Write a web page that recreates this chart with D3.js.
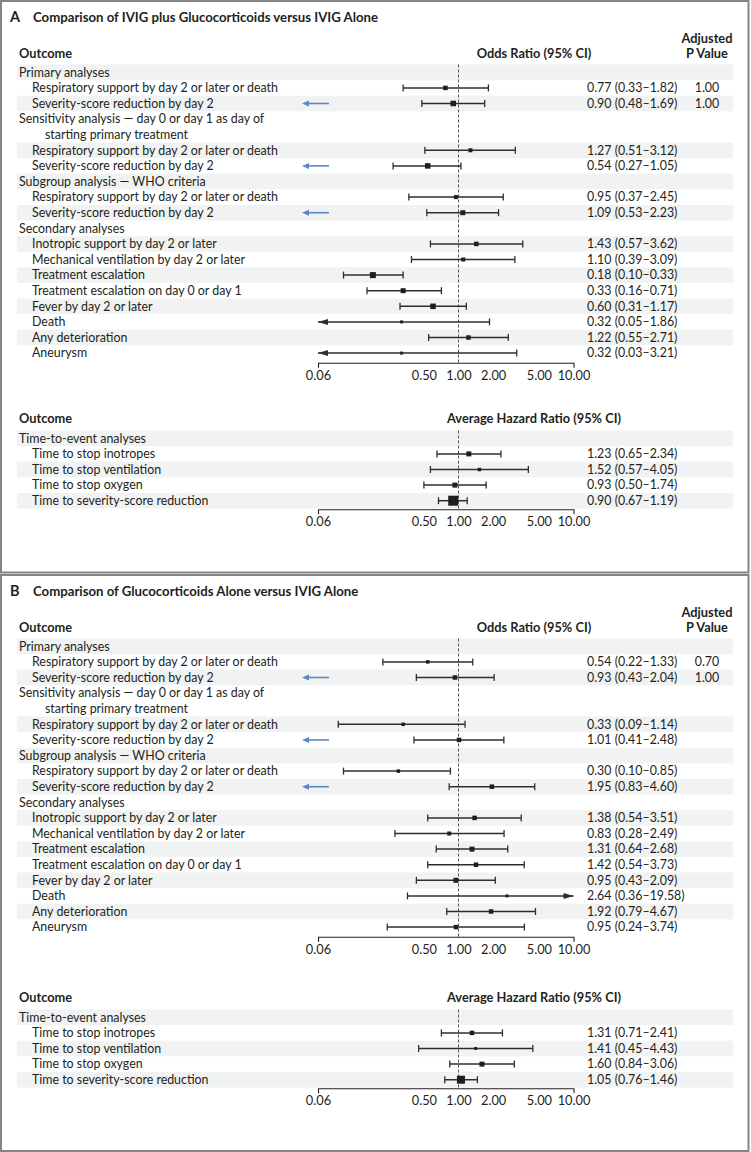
<!DOCTYPE html>
<html><head><meta charset="utf-8">
<script src="https://cdn.jsdelivr.net/npm/d3@7"></script>
<style>
body{margin:0;background:#fff}
svg{display:block}
text{font-family:Lato, "Open Sans", sans-serif; fill:#231f20}
</style>
</head><body>
<svg id="chart" width="751" height="1152"></svg>
<script>
// ---------- DATA ----------
const oddsOutcomes = [
  "Primary analyses",
  "Respiratory support by day 2 or later or death",
  "Severity-score reduction by day 2",
  "Sensitivity analysis \u2014 day 0 or day 1 as day of",
  "starting primary treatment",
  "Respiratory support by day 2 or later or death",
  "Severity-score reduction by day 2",
  "Subgroup analysis \u2014 WHO criteria",
  "Respiratory support by day 2 or later or death",
  "Severity-score reduction by day 2",
  "Secondary analyses",
  "Inotropic support by day 2 or later",
  "Mechanical ventilation by day 2 or later",
  "Treatment escalation",
  "Treatment escalation on day 0 or day 1",
  "Fever by day 2 or later",
  "Death",
  "Any deterioration",
  "Aneurysm"
];
const oddsIndent = [0,1,1,0,2,1,1,0,1,1,0,1,1,1,1,1,1,1,1];

const timeOutcomes = [
  "Time-to-event analyses",
  "Time to stop inotropes",
  "Time to stop ventilation",
  "Time to stop oxygen",
  "Time to severity-score reduction"
];
const timeIndent = [0,1,1,1,1];

// Panel A: IVIG plus glucocorticoids vs IVIG alone
const oddsEstA = [null,0.77,0.90,null,null,1.27,0.54,null,0.95,1.09,null,1.43,1.10,0.18,0.33,0.60,0.32,1.22,0.32];
const oddsLowA = [null,0.33,0.48,null,null,0.51,0.27,null,0.37,0.53,null,0.57,0.39,0.10,0.16,0.31,0.05,0.55,0.03];
const oddsHighA = [null,1.82,1.69,null,null,3.12,1.05,null,2.45,2.23,null,3.62,3.09,0.33,0.71,1.17,1.86,2.71,3.21];
const oddsWeightA = [0,4.5,5.5,0,0,4,5.5,0,4,5,0,4.5,4,6,5,5.5,3,4.5,3];
const pValueA = [null,"1.00","1.00",null,null,null,null,null,null,null,null,null,null,null,null,null,null,null,null];
const hazEstA = [null,1.23,1.52,0.93,0.90];
const hazLowA = [null,0.65,0.57,0.50,0.67];
const hazHighA = [null,2.34,4.05,1.74,1.19];
const hazWeightA = [0,5,3.5,5,10];

// Panel B: glucocorticoids alone vs IVIG alone
const oddsEstB = [null,0.54,0.93,null,null,0.33,1.01,null,0.30,1.95,null,1.38,0.83,1.31,1.42,0.95,2.64,1.92,0.95];
const oddsLowB = [null,0.22,0.43,null,null,0.09,0.41,null,0.10,0.83,null,0.54,0.28,0.64,0.54,0.43,0.36,0.79,0.24];
const oddsHighB = [null,1.33,2.04,null,null,1.14,2.48,null,0.85,4.60,null,3.51,2.49,2.68,3.73,2.09,19.58,4.67,3.74];
const oddsWeightB = [0,3.5,4.5,0,0,3.5,4.5,0,3.5,4.5,0,4.5,4,5,4.5,5,3,4.5,4.5];
const pValueB = [null,"0.70","1.00",null,null,null,null,null,null,null,null,null,null,null,null,null,null,null,null];
const hazEstB = [null,1.31,1.41,1.60,1.05];
const hazLowB = [null,0.71,0.45,0.84,0.76];
const hazHighB = [null,2.41,4.43,3.06,1.46];
const hazWeightB = [0,4.5,3,5,8];

const axisTicks = [0.06, 0.50, 1.00, 2.00, 5.00, 10.00];
const axisDomain = [0.06, 10];

const panelTitles = [
  {letter:"A", title:"Comparison of IVIG plus Glucocorticoids versus IVIG Alone"},
  {letter:"B", title:"Comparison of Glucocorticoids Alone versus IVIG Alone"}
];

// ---------- DRAW ----------
const svg = d3.select("#chart");
const x = d3.scaleLog().domain(axisDomain).range([318, 573.5]);
const f2 = d3.format(".2f");
const INK = "#231f20", LINE = "#2e2e2e", BAND = "#f1f2f2", BLUE = "#5b87c9";
const STEP = 15.6;
const FS = 12.4;

function drawSection(parent, o) {
  const g = parent.append("g");
  const n = o.labels.length;
  const y = d3.scalePoint().domain(d3.range(n)).range([o.y0, o.y0 + (n - 1) * STEP]);
  // shading groups (continuation lines share their group)
  let grp = -1;
  const shade = o.indent.map(d => { if (d !== 2) grp++; return grp % 2 === 0; });
  g.selectAll("rect.band").data(d3.range(n).filter(i => shade[i])).join("rect")
    .attr("class","band").attr("x",17).attr("width",716)
    .attr("y", i => y(i) - STEP/2).attr("height", STEP).attr("fill", BAND);

  // labels
  const indX = [19, 32, 45];
  g.selectAll("text.lab").data(d3.range(n)).join("text").attr("class","lab")
    .attr("x", i => indX[o.indent[i]]).attr("y", i => y(i) + 4.3)
    .attr("font-size", FS).text(i => o.labels[i]);

  // reference line at 1
  g.append("line").attr("x1", x(1)).attr("x2", x(1))
    .attr("y1", y(0) - STEP/2).attr("y2", o.axisY)
    .attr("stroke", "#555").attr("stroke-width", 1).attr("stroke-dasharray", "3,2");

  const rows = d3.range(n).filter(i => o.est[i] != null);
  const [dmin, dmax] = x.domain();
  rows.forEach(i => {
    const yy = y(i);
    const lo = Math.max(o.lo[i], dmin), hi = Math.min(o.hi[i], dmax);
    g.append("line").attr("x1", x(lo)).attr("x2", x(hi)).attr("y1", yy).attr("y2", yy)
      .attr("stroke", LINE).attr("stroke-width", 1.5);
    if (o.lo[i] >= dmin) {
      g.append("line").attr("x1", x(lo)).attr("x2", x(lo)).attr("y1", yy-3.5).attr("y2", yy+3.5)
        .attr("stroke", LINE).attr("stroke-width", 1.3);
    } else {
      const tx = x(lo);
      g.append("path").attr("d", `M${tx},${yy} L${tx+10},${yy-3} L${tx+10},${yy+3} Z`).attr("fill", LINE);
    }
    if (o.hi[i] <= dmax) {
      g.append("line").attr("x1", x(hi)).attr("x2", x(hi)).attr("y1", yy-3.5).attr("y2", yy+3.5)
        .attr("stroke", LINE).attr("stroke-width", 1.3);
    } else {
      const tx = x(hi);
      g.append("path").attr("d", `M${tx},${yy} L${tx-10},${yy-3} L${tx-10},${yy+3} Z`).attr("fill", LINE);
    }
    const s = o.w[i];
    g.append("rect").attr("x", x(o.est[i]) - s/2).attr("y", yy - s/2)
      .attr("width", s).attr("height", s).attr("fill", "#1e1e1e");
    g.append("text").attr("x", 587).attr("y", yy + 4.3).attr("font-size", FS)
      .text(`${f2(o.est[i])} (${f2(o.lo[i])}\u2013${f2(o.hi[i])})`);
    if (o.p && o.p[i] != null) {
      g.append("text").attr("x", 707).attr("y", yy + 4.3).attr("font-size", FS)
        .attr("text-anchor", "middle").text(o.p[i]);
    }
    if (o.arrows && o.labels[i] === "Severity-score reduction by day 2") {
      g.append("line").attr("x1", 329).attr("x2", 307).attr("y1", yy).attr("y2", yy)
        .attr("stroke", BLUE).attr("stroke-width", 1.6);
      g.append("path").attr("d", `M302,${yy} L309,${yy-3} L309,${yy+3} Z`).attr("fill", BLUE);
    }
  });

  // axis
  const ax = g.append("g").attr("transform", `translate(0,${o.axisY})`)
    .call(d3.axisBottom(x).tickValues(axisTicks).tickFormat(f2)
      .tickSizeInner(0).tickSizeOuter(5).tickPadding(8));
  ax.attr("font-family", null).attr("font-size", null);
  ax.select(".domain").attr("stroke", INK).attr("stroke-width", 1.1);
  ax.selectAll(".tick line").remove();
  ax.selectAll(".tick text").attr("font-size", 12.8).attr("fill", INK);
}

function drawPanel(k, top, hazShift, data) {
  const g = svg.append("g");
  const t = panelTitles[k];
  g.append("rect").attr("x", 1).attr("y", top + 1).attr("width", 747.5)
    .attr("height", k === 0 ? 571.5 : 576).attr("fill", "none")
    .attr("stroke", "#858585").attr("stroke-width", 2);
  g.append("text").attr("x", 10).attr("y", top + 21.5).attr("font-size", 14.5)
    .attr("font-weight", 700).text(t.letter);
  g.append("text").attr("x", 33).attr("y", top + 21.5).attr("font-size", 13.2)
    .attr("font-weight", 700).text(t.title);
  // headers
  g.append("text").attr("x", 19).attr("y", top + 57.5).attr("font-size", 12.8)
    .attr("font-weight", 700).text("Outcome");
  g.append("text").attr("x", 534).attr("y", top + 57.5).attr("font-size", 12.8)
    .attr("text-anchor", "middle").attr("font-weight", 700).text("Odds Ratio (95% CI)");
  g.append("text").attr("x", 707).attr("y", top + 42.5).attr("font-size", 12.8)
    .attr("text-anchor", "middle").attr("font-weight", 700).text("Adjusted");
  g.append("text").attr("x", 707).attr("y", top + 57.5).attr("font-size", 12.8)
    .attr("text-anchor", "middle").attr("font-weight", 700).text("P Value");

  drawSection(g, {labels: oddsOutcomes, indent: oddsIndent, est: data.oe, lo: data.ol, hi: data.oh,
    w: data.ow, p: data.p, arrows: true, y0: top + 72.3, axisY: top + 362.7});

  const hy = 418.3 + hazShift;
  g.append("text").attr("x", 19).attr("y", hy + 4.5).attr("font-size", 12.8)
    .attr("font-weight", 700).text("Outcome");
  g.append("text").attr("x", 534).attr("y", hy + 4.5).attr("font-size", 12.8)
    .attr("text-anchor", "middle").attr("font-weight", 700).text("Average Hazard Ratio (95% CI)");
  drawSection(g, {labels: timeOutcomes, indent: timeIndent, est: data.he, lo: data.hl, hi: data.hh,
    w: data.hw, p: null, arrows: false, y0: hy + 20, axisY: hy + 91});
}

drawPanel(0, 0, 0, {oe: oddsEstA, ol: oddsLowA, oh: oddsHighA, ow: oddsWeightA, p: pValueA,
  he: hazEstA, hl: hazLowA, hh: hazHighA, hw: hazWeightA});
drawPanel(1, 574, 579, {oe: oddsEstB, ol: oddsLowB, oh: oddsHighB, ow: oddsWeightB, p: pValueB,
  he: hazEstB, hl: hazLowB, hh: hazHighB, hw: hazWeightB});
</script>
</body></html>
